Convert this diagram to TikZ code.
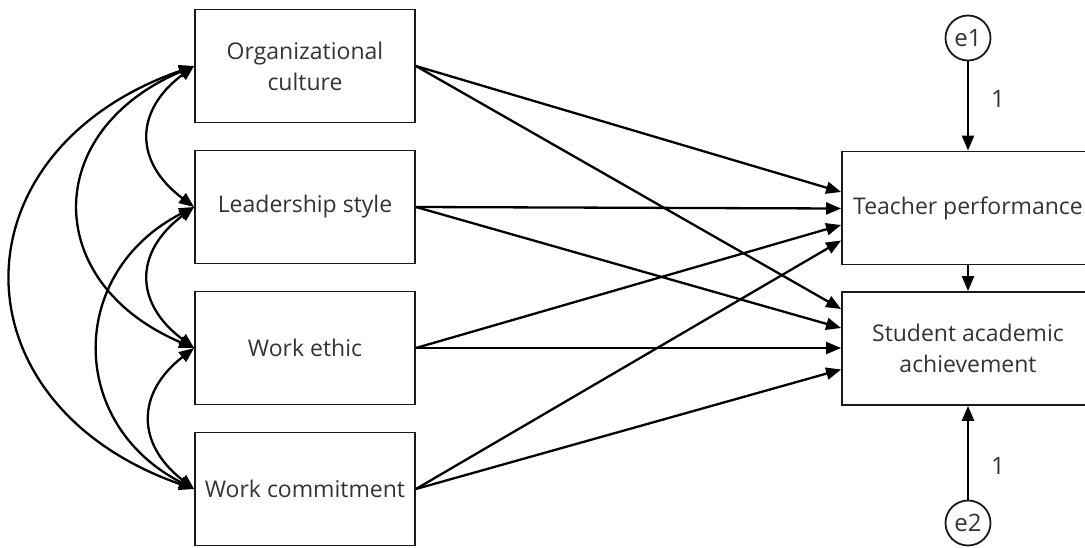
\documentclass[tikz,border=0pt]{standalone}
\usepackage{fontspec}
\setmainfont{Open Sans}
\usetikzlibrary{arrows.meta,calc}
\begin{document}
\begin{tikzpicture}[x=1pt,y=-1pt,
 box/.style={draw=black!90, line width=1.8pt, minimum width=220pt, minimum height=113pt, inner sep=0pt, align=center, font=\fontsize{23}{31}\selectfont, text=black!80},
 rbox/.style={box, minimum width=252pt},
 err/.style={draw=black!90, circle, line width=1.8pt, minimum size=45pt, inner sep=0pt, font=\fontsize{24}{25}\selectfont, text=black!80},
 lbl/.style={font=\fontsize{24}{25}\selectfont, text=black!80, inner sep=0pt},
 tip/.style={-{Triangle[length=15pt,width=12pt]}},
 arr/.style={tip, line width=2.3pt, draw=black},
 cov/.style={{Triangle[length=15pt,width=12pt]}-{Triangle[length=15pt,width=12pt]}, line width=2.3pt, draw=black},
]
\useasboundingbox (0,0) rectangle (1085,547);
\clip (0,0) rectangle (1085,547);
\node[box] (oc) at (305,66) {Organizational\\culture};
\node[box] (ls) at (305,207) {Leadership style};
\node[box] (we) at (305,348) {Work ethic};
\node[box] (wc) at (305,489) {Work commitment};
\node[rbox] (tp) at (968,208) {Teacher performance};
\node[rbox] (sa) at (968,348.5) {Student academic\\achievement};
\node[err] (e1) at (968,38) {e1};
\node[err] (e2) at (968,523) {e2};
\node[lbl] (l1) at (998,99) {1};
\node[lbl] (l2) at (998,466) {1};
\coordinate (tp1) at ($(tp.west)+(0,-16)$);
\coordinate (tp2) at ($(tp.west)+(0,0.5)$);
\coordinate (tp3) at ($(tp.west)+(0,17)$);
\coordinate (tp4) at ($(tp.west)+(0,32.5)$);
\coordinate (sa1) at ($(sa.west)+(0,-39.5)$);
\coordinate (sa2) at ($(sa.west)+(0,-20.5)$);
\coordinate (sa3) at ($(sa.west)+(0,-0.5)$);
\coordinate (sa4) at ($(sa.west)+(0,21)$);
\draw[arr] (oc.east) -- (tp1);
\draw[arr] (oc.east) -- (sa1);
\draw[arr] (ls.east) -- (tp2);
\draw[arr] (ls.east) -- (sa2);
\draw[arr] (we.east) -- (tp3);
\draw[arr] (we.east) -- (sa3);
\draw[arr] (wc.east) -- (tp4);
\draw[arr] (wc.east) -- (sa4);
\draw[arr] (e1.south) -- (tp.north);
\draw[arr] (tp.south) -- (sa.north);
\draw[arr] (e2.north) -- (sa.south);
\draw[cov] (oc.west) .. controls +(-60,45) and +(-60,-45) .. (ls.west);
\draw[cov] (ls.west) .. controls +(-60,45) and +(-60,-45) .. (we.west);
\draw[cov] (we.west) .. controls +(-58,45) and +(-58,-45) .. (wc.west);
\draw[cov] (oc.west) .. controls +(-153,65) and +(-153,-65) .. (we.west);
\draw[cov] (ls.west) .. controls +(-127,65) and +(-127,-65) .. (wc.west);
\draw[cov] (oc.west) .. controls +(-243,85) and +(-243,-85) .. (wc.west);
\end{tikzpicture}
\end{document}
